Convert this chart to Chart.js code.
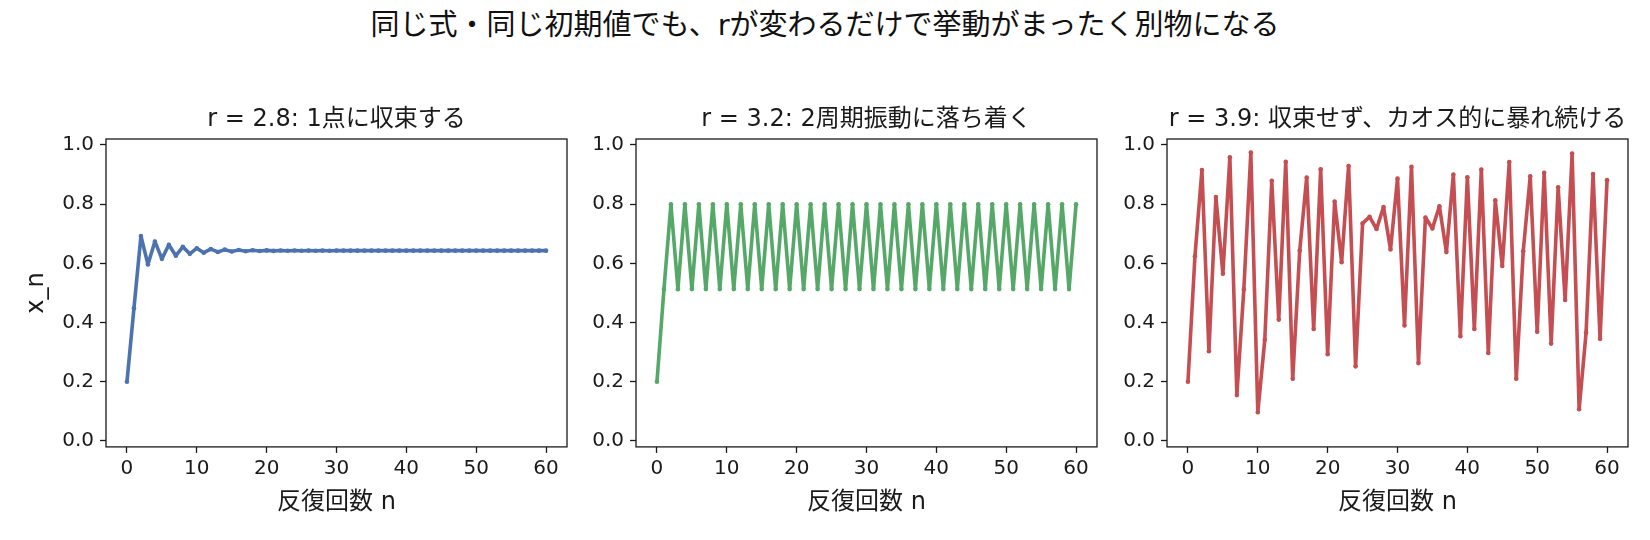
<!DOCTYPE html>
<html>
<head>
<meta charset="utf-8">
<script src="https://cdn.jsdelivr.net/npm/chart.js@4.4.1/dist/chart.umd.min.js"></script>
<style>
  html, body { margin: 0; padding: 0; background: #fff; }
  body { width: 1650px; height: 540px; position: relative; overflow: hidden; }
  #suptitle {
    position: absolute; left: 0; top: 1px; width: 1650px;
    text-align: center; line-height: 34px; color: #111;
    font: 29px "DejaVu Sans", "Noto Sans CJK JP", sans-serif;
  }
  .panel { position: absolute; top: 90px; width: 581px; height: 450px; }
</style>
</head>
<body>
<div id="suptitle">同じ式・同じ初期値でも、rが変わるだけで挙動がまったく別物になる</div>
<div class="panel" style="left:5.5px"><canvas id="chart-r28"></canvas></div>
<div class="panel" style="left:536px"><canvas id="chart-r32"></canvas></div>
<div class="panel" style="left:1066.5px"><canvas id="chart-r39"></canvas></div>

<script>
// ---- data (x_n, n = 0..60) ----
const xTicks = [0, 10, 20, 30, 40, 50, 60];
const yTicks = [0, 0.2, 0.4, 0.6, 0.8, 1.0];

const seriesR28 = [
  0.2000, 0.4480, 0.6924, 0.5963, 0.6740, 0.6152, 0.6628, 0.6258, 0.6557, 0.6321,
  0.6511, 0.6360, 0.6482, 0.6385, 0.6463, 0.6401, 0.6450, 0.6411, 0.6443, 0.6417,
  0.6438, 0.6421, 0.6434, 0.6424, 0.6432, 0.6426, 0.6431, 0.6427, 0.6430, 0.6427,
  0.6430, 0.6428, 0.6429, 0.6428, 0.6429, 0.6428, 0.6429, 0.6428, 0.6429, 0.6428,
  0.6429, 0.6428, 0.6429, 0.6428, 0.6429, 0.6428, 0.6429, 0.6428, 0.6429, 0.6428,
  0.6429, 0.6428, 0.6429, 0.6428, 0.6429, 0.6428, 0.6429, 0.6428, 0.6429, 0.6428,
  0.6429
];

const seriesR32 = [
  0.2000, 0.5120, 0.7995, 0.5129, 0.7995, 0.5130, 0.7995, 0.5130, 0.7995, 0.5130,
  0.7995, 0.5130, 0.7995, 0.5130, 0.7995, 0.5130, 0.7995, 0.5130, 0.7995, 0.5130,
  0.7995, 0.5130, 0.7995, 0.5130, 0.7995, 0.5130, 0.7995, 0.5130, 0.7995, 0.5130,
  0.7995, 0.5130, 0.7995, 0.5130, 0.7995, 0.5130, 0.7995, 0.5130, 0.7995, 0.5130,
  0.7995, 0.5130, 0.7995, 0.5130, 0.7995, 0.5130, 0.7995, 0.5130, 0.7995, 0.5130,
  0.7995, 0.5130, 0.7995, 0.5130, 0.7995, 0.5130, 0.7995, 0.5130, 0.7995, 0.5130,
  0.7995
];

const seriesR39 = [
  0.200, 0.624, 0.915, 0.303, 0.824, 0.565, 0.958, 0.155, 0.512, 0.974,
  0.097, 0.342, 0.879, 0.410, 0.943, 0.210, 0.643, 0.890, 0.378, 0.918,
  0.293, 0.809, 0.604, 0.929, 0.252, 0.735, 0.757, 0.716, 0.790, 0.647,
  0.886, 0.390, 0.926, 0.263, 0.755, 0.718, 0.793, 0.638, 0.900, 0.354,
  0.891, 0.378, 0.917, 0.297, 0.813, 0.591, 0.942, 0.210, 0.641, 0.894,
  0.369, 0.906, 0.329, 0.857, 0.476, 0.971, 0.107, 0.366, 0.902, 0.345,
  0.881
];

const panelTitles = [
  'r = 2.8: 1点に収束する',
  'r = 3.2: 2周期振動に落ち着く',
  'r = 3.9: 収束せず、カオス的に暴れ続ける'
];
const xLabel = '反復回数 n';
const yLabel = 'x_n';

// ---- style ----
const FONT = '"DejaVu Sans", "Noto Sans CJK JP", sans-serif';
const INK = '#1a1a1a';
const colors = { blue: '#4C72B0', green: '#55A868', red: '#C44E52' };

// box around the plot area, drawn over the line like matplotlib spines
const framePlugin = {
  id: 'frame',
  afterDatasetsDraw(chart) {
    const { ctx, chartArea: a } = chart;
    ctx.save();
    ctx.strokeStyle = INK;
    ctx.lineWidth = 1.3;
    ctx.strokeRect(a.left, a.top, a.right - a.left, a.bottom - a.top);
    ctx.restore();
  }
};

const tickGrid = {
  display: true,
  drawOnChartArea: false,
  drawTicks: true,
  tickLength: 6,
  tickColor: INK,
  tickWidth: 1.3
};

function makePanel(id, values, color, title, showYLabel) {
  const ctx = document.getElementById(id);
  return new Chart(ctx, {
    type: 'line',
    data: {
      datasets: [{
        data: values.map((v, i) => ({ x: i, y: v })),
        borderColor: color,
        backgroundColor: color,
        borderWidth: 3.6,
        pointRadius: 2.3,
        pointBorderWidth: 0,
        borderJoinStyle: 'round',
        tension: 0,
        fill: false
      }]
    },
    options: {
      responsive: true,
      maintainAspectRatio: false,
      animation: false,
      layout: { padding: { left: 0, right: 20, top: 0, bottom: 0 } },
      plugins: {
        legend: { display: false },
        tooltip: { enabled: false },
        title: {
          display: true,
          text: title,
          fullSize: false,
          color: INK,
          font: { family: FONT, size: 24, weight: 'normal' },
          padding: { top: 15.6, bottom: 4.6 }
        }
      },
      scales: {
        x: {
          type: 'linear',
          min: -3,
          max: 63,
          afterBuildTicks: (scale) => { scale.ticks = xTicks.map(v => ({ value: v })); },
          afterFit: (scale) => { scale.height = 93.1; },
          border: { display: false },
          grid: tickGrid,
          ticks: {
            color: INK,
            padding: 4,
            maxRotation: 0,
            font: { family: FONT, size: 20 },
            callback: (v) => String(v)
          },
          title: {
            display: true,
            text: xLabel,
            color: INK,
            font: { family: FONT, size: 24 },
            padding: { top: 0, bottom: 22.5 }
          }
        },
        y: {
          type: 'linear',
          min: -0.02,
          max: 1.02,
          afterBuildTicks: (scale) => { scale.ticks = yTicks.map(v => ({ value: v })); },
          afterFit: (scale) => { scale.width = 100; },
          border: { display: false },
          grid: tickGrid,
          ticks: {
            color: INK,
            padding: 6,
            font: { family: FONT, size: 20 },
            callback: (v) => Number(v).toFixed(1)
          },
          title: {
            display: showYLabel,
            text: yLabel,
            color: INK,
            font: { family: FONT, size: 24 },
            padding: { top: 16.8, bottom: 0 }
          }
        }
      }
    },
    plugins: [framePlugin]
  });
}

makePanel('chart-r28', seriesR28, colors.blue, panelTitles[0], true);
makePanel('chart-r32', seriesR32, colors.green, panelTitles[1], false);
makePanel('chart-r39', seriesR39, colors.red, panelTitles[2], false);
</script>
</body>
</html>
